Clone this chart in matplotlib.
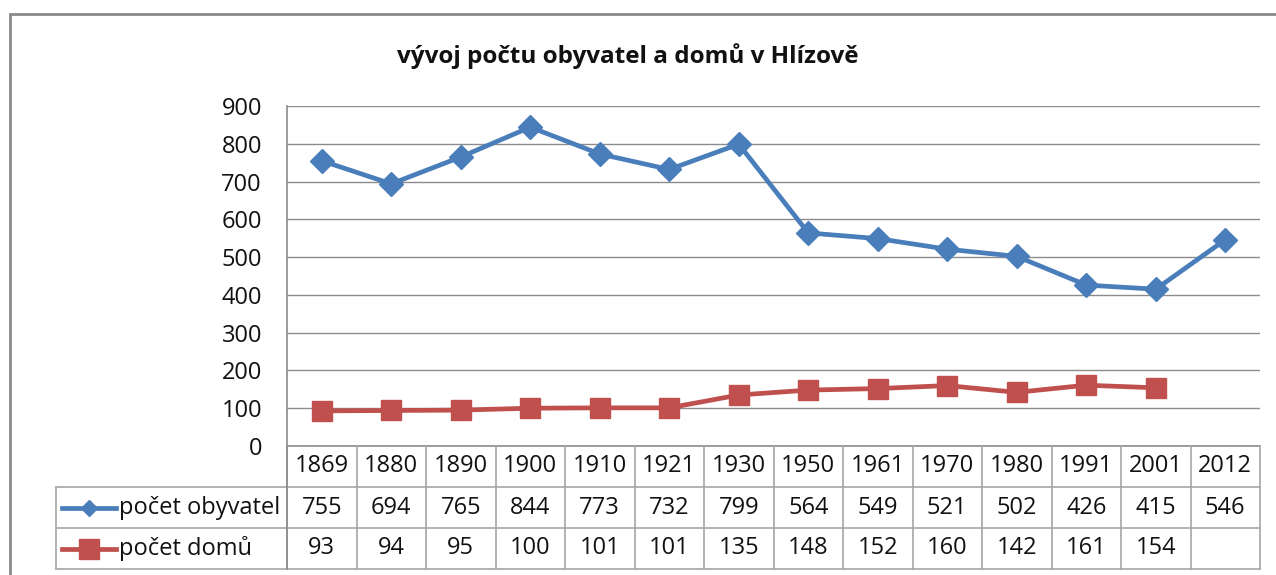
import matplotlib
matplotlib.use('Agg')
import matplotlib.pyplot as plt
from matplotlib.lines import Line2D
from matplotlib.patches import Rectangle
import numpy as np

plt.rcParams['font.family'] = ['Open Sans', 'DejaVu Sans']

years = ['1869', '1880', '1890', '1900', '1910', '1921', '1930',
         '1950', '1961', '1970', '1980', '1991', '2001', '2012']
obyvatel = [755, 694, 765, 844, 773, 732, 799, 564, 549, 521, 502, 426, 415, 546]
domu = [93, 94, 95, 100, 101, 101, 135, 148, 152, 160, 142, 161, 154, np.nan]
series_names = ['počet obyvatel', 'počet domů']
title = 'vývoj počtu obyvatel a domů v Hlízově'

blue = '#4A7EBB'
red = '#C0504D'
grid_c = '#8c8c8c'
cell_c = '#a6a6a6'
fs = 17

W, H = 1276, 575
fig = plt.figure(figsize=(W / 100, H / 100), dpi=100)

# outer chart border
fig.patches.append(Rectangle((10 / W, -0.1), 1.2, 1 - 14 / H + 0.1,
                             transform=fig.transFigure, fill=False,
                             edgecolor='#8a8a8a', linewidth=2))

fig.text(628 / W, 1 - 56 / H, title, ha='center', va='center',
         fontsize=17.5, fontweight='bold', color='#111111')

# plot area
left, right, top, bottom = 287, 1260, 106, 446
ax = fig.add_axes([left / W, 1 - bottom / H, (right - left) / W, (bottom - top) / H])
x = np.arange(len(years))
ax.plot(x, obyvatel, color=blue, linewidth=3.4, marker='D', markersize=12.5,
        markerfacecolor=blue, markeredgecolor=blue, zorder=3)
ax.plot(x, domu, color=red, linewidth=3.4, marker='s', markersize=15,
        markerfacecolor=red, markeredgecolor=red, zorder=3)
ax.set_xlim(-0.5, len(years) - 0.5)
ax.set_ylim(0, 900)
ax.set_yticks(range(0, 901, 100))
ax.set_xticks([])
ax.tick_params(axis='y', length=0, pad=18, labelsize=fs, colors='#111111')
for s in ['top', 'right', 'bottom']:
    ax.spines[s].set_visible(False)
ax.spines['left'].set_color(grid_c)
ax.spines['left'].set_linewidth(1.2)
ax.grid(axis='y', color=grid_c, linewidth=1)
ax.set_axisbelow(True)

# data table
t_left, t_bottom = 56, 569
col_w = (right - left) / len(years)
legw = (left - t_left) / col_w
tab = fig.add_axes([t_left / W, 1 - t_bottom / H, (right - t_left) / W, (t_bottom - bottom) / H])
tab.set_xlim(-0.5 - legw, len(years) - 0.5)
tab.set_ylim(3, 0)
tab.axis('off')
n = len(years)
lw = 1.2
tab.plot([-0.5, n - 0.5], [0, 0], color=grid_c, lw=lw, clip_on=False)
for r in [1, 2, 3]:
    tab.plot([-0.5 - legw, n - 0.5], [r, r], color=cell_c, lw=lw, clip_on=False)
for k in range(n + 1):
    tab.plot([k - 0.5, k - 0.5], [0, 3], color=cell_c, lw=lw, clip_on=False)
tab.plot([-0.5 - legw, -0.5 - legw], [1, 3], color=cell_c, lw=lw, clip_on=False)
tab.plot([-0.5, -0.5], [0, 3], color=grid_c, lw=lw, clip_on=False)

for i, yr in enumerate(years):
    tab.text(i, 0.5, yr, ha='center', va='center', fontsize=fs, color='#111111')
for r, vals in enumerate([obyvatel, domu], start=1):
    for i, v in enumerate(vals):
        if not np.isnan(v):
            tab.text(i, r + 0.5, str(int(v)), ha='center', va='center',
                     fontsize=fs, color='#111111')

# legend keys inside the table
sw0 = -0.5 - legw + 6 / col_w
sw1 = sw0 + 54 / col_w
for r, (name, c, m, ms) in enumerate(zip(series_names, [blue, red], ['D', 's'], [8.5, 14]), start=1):
    tab.add_line(Line2D([sw0, sw1], [r + 0.5, r + 0.5], color=c, linewidth=3.4))
    tab.plot([(sw0 + sw1) / 2], [r + 0.5], marker=m, markersize=ms, color=c)
    tab.text(sw1 + 3 / col_w, r + 0.5, name, ha='left', va='center',
             fontsize=fs, color='#111111')

fig.savefig('out.png', dpi=100)
